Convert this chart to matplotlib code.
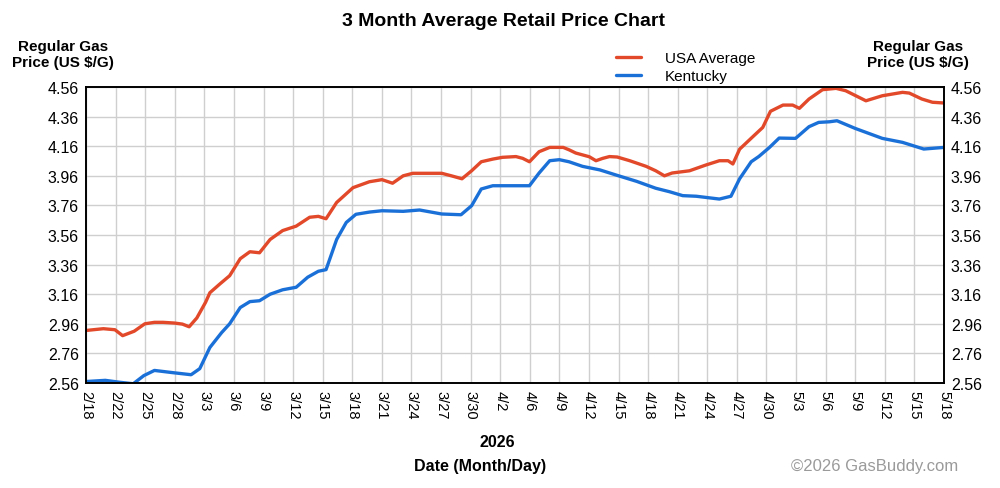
import numpy as np
import matplotlib
matplotlib.use('Agg')
import matplotlib.pyplot as plt

plt.rcParams['font.family'] = ['Liberation Sans', 'DejaVu Sans']

# day offsets from 2/18/2026 and prices
usa_days = [0, 1.8, 3, 3.8, 5, 6.1, 7.1, 8, 9.2, 10, 10.7, 11.5, 12.4, 12.85, 13.9, 14.9,
            16, 17, 18, 19.1, 20.4, 21.8, 23.2, 24.1, 24.9, 26, 27.7, 29.4, 30.7, 31.8,
            32.9, 33.9, 36.9, 37.9, 39, 40, 41, 42.2, 43.2, 44.6, 45.3, 46, 47, 48.1,
            49.5, 50.1, 50.8, 52.2, 52.9, 53.6, 54.3, 55.1, 56.4, 58.1, 59.1, 60, 60.8,
            61.4, 62.6, 64.3, 65.7, 66.6, 67.1, 67.8, 69.1, 70.2, 71, 72.3, 73.3, 74,
            75, 76.4, 77.8, 78.8, 80.9, 82.6, 84.7, 85.4, 86.7, 87.8, 89]
usa_price = [2.915, 2.927, 2.92, 2.88, 2.91, 2.96, 2.97, 2.97, 2.965, 2.958, 2.94, 3.0, 3.105, 3.17,
             3.23, 3.285, 3.40, 3.447, 3.44, 3.53, 3.59, 3.62, 3.68, 3.686, 3.67, 3.78, 3.88,
             3.92, 3.934, 3.91, 3.96, 3.977, 3.977, 3.96, 3.94, 3.994, 4.055, 4.073, 4.085,
             4.09, 4.078, 4.055, 4.123, 4.152, 4.152, 4.136, 4.114, 4.089, 4.062, 4.078, 4.09,
             4.087, 4.062, 4.024, 3.994, 3.96, 3.979, 3.984, 3.994, 4.033, 4.062, 4.062, 4.04,
             4.14, 4.22, 4.287, 4.396, 4.438, 4.438, 4.416, 4.479, 4.542, 4.551, 4.535, 4.467,
             4.501, 4.524, 4.519, 4.479, 4.457, 4.452]

ky_days = [0, 2, 3.5, 4.9, 6, 7.1, 9, 10.9, 11.8, 12.85, 14.06, 14.9, 16, 17, 18, 19.1,
           20.4, 21.8, 23, 24.1, 24.9, 26, 27, 28, 29.4, 30.7, 32.9, 34.6, 36.9, 38.9, 40,
           41, 42.2, 43.2, 46, 47, 48.1, 49.1, 50.1, 51.5, 53.3, 55, 57.1, 59.1, 60.5, 61.9,
           63.3, 65.7, 66.9, 67.8, 69, 69.8, 70.9, 71.9, 73.6, 75, 76, 77.1, 77.9, 79.8,
           82.6, 84.7, 86.9, 89]
ky_price = [2.57, 2.578, 2.565, 2.555, 2.61, 2.645, 2.63, 2.616, 2.657, 2.80, 2.90, 2.96,
            3.07, 3.11, 3.116, 3.16, 3.19, 3.207, 3.275, 3.315, 3.326, 3.53, 3.645, 3.70,
            3.715, 3.724, 3.72, 3.729, 3.702, 3.697, 3.758, 3.871, 3.893, 3.893, 3.893,
            3.979, 4.062, 4.069, 4.055, 4.024, 4.0, 3.965, 3.923, 3.876, 3.853, 3.826,
            3.822, 3.803, 3.822, 3.94, 4.055, 4.091, 4.152, 4.215, 4.213, 4.292, 4.321,
            4.325, 4.332, 4.28, 4.213, 4.186, 4.141, 4.152]

date_labels = ['2/18', '2/22', '2/25', '2/28', '3/3', '3/6', '3/9', '3/12', '3/15', '3/18',
               '3/21', '3/24', '3/27', '3/30', '4/2', '4/6', '4/9', '4/12', '4/15', '4/18',
               '4/21', '4/24', '4/27', '4/30', '5/3', '5/6', '5/9', '5/12', '5/15', '5/18']
price_ticks = [2.56, 2.76, 2.96, 3.16, 3.36, 3.56, 3.76, 3.96, 4.16, 4.36, 4.56]

red = '#E2492A'
blue = '#1B70D8'

fig = plt.figure(figsize=(10, 4.89), dpi=100)
ax = fig.add_axes([0.086, 0.2147, 0.858, 0.6053])

ax.plot(usa_days, usa_price, color=red, lw=2.4, label='USA Average', solid_capstyle='round')
ax.plot(ky_days, ky_price, color=blue, lw=2.4, label='Kentucky', solid_capstyle='round')

ax.set_xlim(0, 89)
ax.set_ylim(2.56, 4.56)
ax.set_xticks(np.linspace(0, 89, len(date_labels)))
ax.set_xticklabels(date_labels, rotation=270, fontsize=10.5, va='top', ha='center')
ax.set_yticks(price_ticks)
ax.set_yticklabels(['%.2f' % v for v in price_ticks], fontsize=11.5)
ax.tick_params(axis='both', length=0, pad=5)
ax.tick_params(axis='y', labelright=True, pad=5)
ax.grid(True, color='#cfcfcf', lw=1.0)
ax.set_axisbelow(True)
for s in ax.spines.values():
    s.set_linewidth(1.4)
    s.set_color('black')

fig.text(0.503, 0.957, '3 Month Average Retail Price Chart', ha='center', va='center',
         fontsize=14, fontweight='bold')
fig.text(0.063, 0.887, 'Regular Gas\nPrice (US $/G)', ha='center', va='center',
         fontsize=11, fontweight='bold', linespacing=1.15)
fig.text(0.918, 0.887, 'Regular Gas\nPrice (US $/G)', ha='center', va='center',
         fontsize=11, fontweight='bold', linespacing=1.15)
fig.text(0.497, 0.096, '2026', ha='center', va='center', fontsize=11.5, fontweight='bold')
fig.text(0.48, 0.047, 'Date (Month/Day)', ha='center', va='center', fontsize=11.5, fontweight='bold')
fig.text(0.958, 0.047, '\u00a92026 GasBuddy.com', ha='right', va='center', fontsize=12,
         color='#9a9a9a')

ax.legend(loc='lower left', bbox_to_anchor=(0.609, 0.988), frameon=False, fontsize=11,
          handlelength=1.6, handletextpad=1.6, borderaxespad=0.1, labelspacing=0.25)

fig.savefig('out.png', dpi=100)
